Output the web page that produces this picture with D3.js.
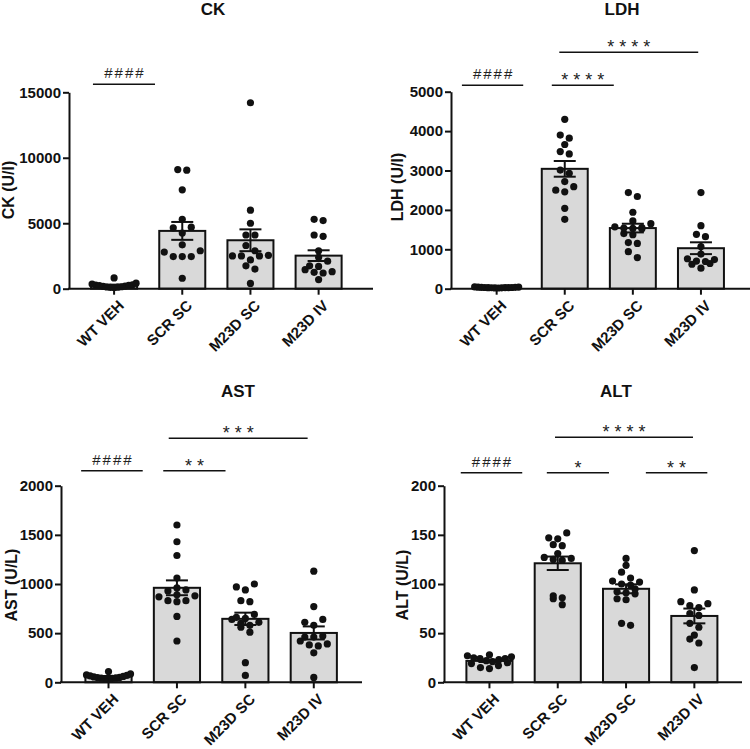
<!DOCTYPE html>
<html>
<head>
<meta charset="utf-8">
<script src="https://cdn.jsdelivr.net/npm/d3@7"></script>
<style>
  body { margin: 0; background: #fff; }
  text { font-family: "Liberation Sans", Arial, sans-serif; }
</style>
</head>
<body>
<svg id="chart" width="750" height="749"></svg>
<script>
// groups on the x axis
const groups = ["WT VEH", "SCR SC", "M23D SC", "M23D IV"];

// CK (U/l), one value per animal
const ckWT   = [820, 420, 350, 300, 280, 250, 230, 200, 180, 150, 130, 120, 100, 90];
const ckSCR  = [9100, 9050, 7550, 5300, 4700, 4650, 4250, 3350, 2900, 2800, 2450, 2450, 2450, 800];
const ckSC   = [14200, 6000, 5000, 4100, 4100, 3300, 2900, 2550, 2500, 2500, 2500, 2200, 1750, 1500, 400];
const ckIV   = [5300, 5200, 4100, 4000, 2900, 2400, 2100, 1700, 1750, 1450, 1250, 1200, 1300, 700];

// LDH (U/l)
const ldhWT  = [45, 40, 38, 35, 33, 30, 30, 28, 27, 25, 24, 22, 20, 18];
const ldhSCR = [4300, 3900, 3820, 3660, 3480, 3420, 3010, 2930, 2720, 2590, 2500, 2460, 2040, 1760];
const ldhSC  = [2440, 2340, 1940, 1720, 1650, 1570, 1550, 1540, 1530, 1520, 1400, 1370, 1170, 1150, 940, 790];
const ldhIV  = [2440, 1600, 1380, 1320, 1070, 880, 760, 740, 700, 690, 640, 620, 520];

// AST (U/L)
const astWT  = [110, 85, 75, 70, 65, 60, 55, 50, 48, 45, 42, 40, 38, 35];
const astSCR = [1600, 1430, 1290, 1060, 960, 940, 930, 890, 880, 870, 830, 830, 820, 670, 420];
const astSC  = [1000, 970, 940, 830, 820, 690, 660, 650, 640, 610, 600, 580, 560, 510, 200, 70];
const astIV  = [1130, 770, 640, 610, 580, 470, 460, 460, 420, 390, 380, 370, 300, 50];

// ALT (U/L)
const altWT  = [28, 27, 26, 25, 24, 24, 23, 22, 21, 20, 19, 17, 15, 14];
const altSCR = [152, 147, 146, 140, 139, 131, 127, 126, 125, 124, 88, 86, 85, 79];
const altSC  = [126, 119, 112, 106, 103, 102, 100, 99, 95, 92, 91, 90, 85, 84, 60, 58];
const altIV  = [134, 94, 82, 80, 78, 76, 70, 68, 60, 56, 48, 44, 40, 15];

// significance marks: label, first and second group
const ckMarks  = [["####", 0, 1]];
const ldhMarks = [["####", 0, 1], ["****", 1, 2], ["****", 1, 3]];
const astMarks = [["####", 0, 1], ["**", 1, 2], ["***", 1, 3]];
const altMarks = [["####", 0, 1], ["*", 1, 2], ["**", 2, 3], ["****", 1, 3]];

// layout for each panel (pixels); bracket spans are in band units
const panels = [
  { title: "CK", yLabel: "CK (U/l)", values: [ckWT, ckSCR, ckSC, ckIV], max: 15000, step: 5000,
    axisX: 69, xStart: 80, xEnd: 352.7, axisEnd: 373, yTop: 92.3, yBottom: 288.7,
    titleX: 213, titleY: 15, labelX: 8, labelY: 190,
    marks: ckMarks, spans: [[-0.31, 0.60, 8]] },
  { title: "LDH", yLabel: "LDH (U/l)", values: [ldhWT, ldhSCR, ldhSC, ldhIV], max: 5000, step: 1000,
    axisX: 451, xStart: 462.6, xEnd: 735, axisEnd: 750, yTop: 91.7, yBottom: 288.7,
    titleX: 622, titleY: 15, labelX: 397, labelY: 187,
    marks: ldhMarks, spans: [[-0.51, 0.39, 6.4], [0.81, 1.72, 6.4], [0.92, 2.96, 39.4]] },
  { title: "AST", yLabel: "AST (U/L)", values: [astWT, astSCR, astSC, astIV], max: 2000, step: 500,
    axisX: 61, xStart: 74.3, xEnd: 348, axisEnd: 362, yTop: 485.7, yBottom: 682.3,
    titleX: 238, titleY: 397, labelX: 11, labelY: 585,
    marks: astMarks, spans: [[-0.40, 0.50, 15], [0.80, 1.71, 15], [0.88, 2.91, 47.4]] },
  { title: "ALT", yLabel: "ALT (U/L)", values: [altWT, altSCR, altSC, altIV], max: 200, step: 50,
    axisX: 444, xStart: 455.3, xEnd: 728.5, axisEnd: 742, yTop: 485.7, yBottom: 682.3,
    titleX: 616, titleY: 397, labelX: 402, labelY: 585,
    marks: altMarks, spans: [[-0.42, 0.48, 13], [0.84, 1.75, 13], [2.29, 3.19, 13], [0.96, 2.98, 48.4]] }
];

const ink = "#111";
const svg = d3.select("#chart");

// group dots into rows of similar height and spread each row around the center
function swarm(vals, y, maxWidth) {
  var pts = vals.map(v => ({ v: v, y: y(v) })).sort((a, b) => b.y - a.y);
  var rows = [], row = null;
  pts.forEach(p => {
    if (!row || row[0].y - p.y > 6) { row = [p]; rows.push(row); }
    else row.push(p);
  });
  rows.forEach(r => {
    var gap = r.length > 1 ? Math.min(9, maxWidth / (r.length - 1)) : 0;
    r.sort((a, b) => a.v - b.v);
    // alternate sides so neighbours in value sit apart
    var order = [];
    r.forEach((p, i) => { if (i % 2 == 0) order.push(p); else order.unshift(p); });
    order.forEach((p, i) => { p.dx = (i - (order.length - 1) / 2) * gap; });
  });
  return pts;
}

panels.forEach(p => {
  var g = svg.append("g");
  var x = d3.scaleBand().domain(groups).range([p.xStart, p.xEnd]).paddingInner(0.325).paddingOuter(0.1625);
  var y = d3.scaleLinear().domain([0, p.max]).range([p.yBottom, p.yTop]);
  var bandStep = (p.xEnd - p.xStart) / groups.length;
  var xf = f => p.xStart + bandStep * (f + 0.5);

  var stats = p.values.map((vals, i) => {
    var m = d3.mean(vals);
    var sem = d3.deviation(vals) / Math.sqrt(vals.length);
    return { group: groups[i], mean: m, sem: sem, vals: vals };
  });

  // bars
  g.selectAll(".bar").data(stats).enter().append("rect")
    .attr("class", "bar")
    .attr("x", d => x(d.group))
    .attr("y", d => y(d.mean))
    .attr("width", x.bandwidth())
    .attr("height", d => p.yBottom - y(d.mean))
    .attr("fill", "#d9d9d9")
    .attr("stroke", ink)
    .attr("stroke-width", 2);

  // dots
  stats.forEach(s => {
    var cx = x(s.group) + x.bandwidth() / 2;
    g.selectAll(null).data(swarm(s.vals, y, 44)).enter().append("circle")
      .attr("cx", d => cx + d.dx)
      .attr("cy", d => d.y)
      .attr("r", 3.6)
      .attr("fill", ink);
  });

  // mean +/- SEM
  var eb = g.selectAll(".err").data(stats).enter().append("g").attr("class", "err")
    .attr("stroke", ink).attr("stroke-width", 2);
  eb.append("line")
    .attr("x1", d => x(d.group) + x.bandwidth() / 2).attr("x2", d => x(d.group) + x.bandwidth() / 2)
    .attr("y1", d => y(d.mean - d.sem)).attr("y2", d => y(d.mean + d.sem));
  [-1, 1].forEach(k => {
    eb.append("line")
      .attr("x1", d => x(d.group) + x.bandwidth() / 2 - 11).attr("x2", d => x(d.group) + x.bandwidth() / 2 + 11)
      .attr("y1", d => y(d.mean + k * d.sem)).attr("y2", d => y(d.mean + k * d.sem));
  });

  // y axis
  var yAxis = g.append("g")
    .attr("transform", "translate(" + p.axisX + ",0)")
    .call(d3.axisLeft(y).tickValues(d3.range(0, p.max + 1, p.step)).tickFormat(d3.format("d"))
      .tickSize(6).tickSizeOuter(0).tickPadding(2));
  yAxis.select(".domain").attr("stroke", ink).attr("stroke-width", 2);
  yAxis.selectAll(".tick line").attr("stroke", ink).attr("stroke-width", 2);
  yAxis.selectAll(".tick text")
    .style("font-family", "'Liberation Sans', Arial, sans-serif")
    .style("font-size", "15px").style("font-weight", "bold").attr("fill", ink);

  // x axis
  g.append("line")
    .attr("x1", p.axisX - 1).attr("x2", p.axisEnd)
    .attr("y1", p.yBottom).attr("y2", p.yBottom)
    .attr("stroke", ink).attr("stroke-width", 2);
  var xAxis = g.append("g")
    .attr("transform", "translate(0," + p.yBottom + ")")
    .call(d3.axisBottom(x).tickSize(6).tickSizeOuter(0));
  xAxis.select(".domain").remove();
  xAxis.selectAll(".tick line").attr("stroke", ink).attr("stroke-width", 2);
  xAxis.selectAll(".tick text")
    .style("font-family", "'Liberation Sans', Arial, sans-serif")
    .style("font-size", "15px").style("font-weight", "bold").attr("fill", ink)
    .attr("text-anchor", "end")
    .attr("x", -5).attr("y", 15).attr("dy", "0.35em")
    .attr("transform", "rotate(-45)");

  // title and y label
  g.append("text")
    .attr("x", p.titleX).attr("y", p.titleY)
    .attr("text-anchor", "middle")
    .style("font-size", "17px").style("font-weight", "bold").attr("fill", ink)
    .text(p.title);
  g.append("text")
    .attr("transform", "translate(" + p.labelX + "," + p.labelY + ") rotate(-90)")
    .attr("text-anchor", "middle").attr("dy", "0.35em")
    .style("font-size", "16px").style("font-weight", "bold").attr("fill", ink)
    .text(p.yLabel);

  // significance brackets
  p.marks.forEach((m, i) => {
    var sp = p.spans[i];
    var ly = p.yTop - sp[2];
    var x1 = xf(sp[0]), x2 = xf(sp[1]);
    g.append("line")
      .attr("x1", x1).attr("x2", x2).attr("y1", ly).attr("y2", ly)
      .attr("stroke", ink).attr("stroke-width", 1.6);
    var isHash = m[0][0] == "#";
    var ls = isHash ? 2 : 5;
    g.append("text")
      .attr("x", (x1 + x2) / 2 + ls / 2)
      .attr("y", isHash ? ly - 6 : ly + 1)
      .attr("text-anchor", "middle")
      .style("font-size", isHash ? "15px" : "18px")
      .style("letter-spacing", ls + "px")
      .attr("fill", "#222")
      .text(m[0]);
  });
});
</script>
</body>
</html>
